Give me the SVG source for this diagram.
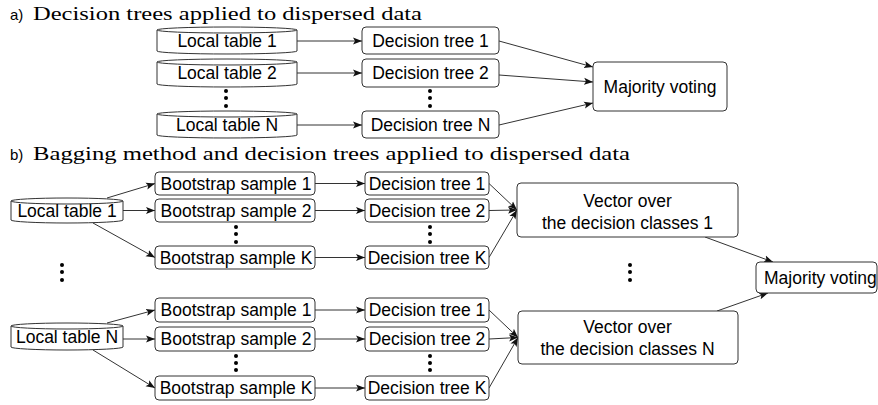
<svg xmlns="http://www.w3.org/2000/svg" width="878" height="405" viewBox="0 0 878 405">
<style>
.box{fill:#fff;stroke:#333;stroke-width:1}
.t{font-family:"Liberation Sans",Arial,sans-serif;font-size:17.5px;fill:#000;text-anchor:middle}
.lbl{font-family:"Liberation Sans",Arial,sans-serif;font-size:15px;fill:#000}
.ttl{font-family:"Liberation Serif","Times New Roman",serif;font-size:19.5px;fill:#000}
.e{stroke:#333;stroke-width:1;fill:none;marker-end:url(#ah)}
.dot{fill:#000}
</style>
<defs>
<marker id="ah" markerUnits="userSpaceOnUse" markerWidth="10" markerHeight="8" refX="9" refY="4" orient="auto">
<path d="M0,0.5 L9,4 L0,7.5 L2,4 z" fill="#111"/>
</marker>
</defs>
<rect width="878" height="405" fill="#fff"/>

<!-- titles -->
<text class="lbl" x="10" y="20">a)</text>
<text class="ttl" x="33" y="20" textLength="389" lengthAdjust="spacingAndGlyphs">Decision trees applied to dispersed data</text>
<text class="lbl" x="10" y="160">b)</text>
<text class="ttl" x="33" y="160" textLength="597" lengthAdjust="spacingAndGlyphs">Bagging method and decision trees applied to dispersed data</text>

<!-- connectors -->
<g id="connectors">
<line class="e" x1="297" y1="41" x2="362" y2="41"/>
<line class="e" x1="297" y1="73" x2="362" y2="73"/>
<line class="e" x1="297" y1="125" x2="362" y2="125"/>
<line class="e" x1="499" y1="41" x2="593" y2="67"/>
<line class="e" x1="499" y1="75" x2="593" y2="82"/>
<line class="e" x1="499" y1="125" x2="593" y2="103"/>

<line class="e" x1="107" y1="198" x2="155" y2="183.5"/>
<line class="e" x1="123" y1="210.5" x2="155" y2="210.5"/>
<line class="e" x1="93" y1="223" x2="155" y2="257.5"/>
<line class="e" x1="315" y1="183.5" x2="365" y2="183.5"/>
<line class="e" x1="315" y1="210.5" x2="365" y2="210.5"/>
<line class="e" x1="315" y1="257.5" x2="365" y2="257.5"/>
<line class="e" x1="489" y1="183.5" x2="517" y2="210"/>
<line class="e" x1="489" y1="210.5" x2="517" y2="210"/>
<line class="e" x1="489" y1="257.5" x2="517" y2="210"/>
<line class="e" x1="705" y1="237" x2="773" y2="262"/>

<line class="e" x1="107" y1="323" x2="155" y2="310"/>
<line class="e" x1="123" y1="339" x2="155" y2="339"/>
<line class="e" x1="93" y1="350" x2="155" y2="388"/>
<line class="e" x1="315" y1="310" x2="365" y2="310"/>
<line class="e" x1="315" y1="339" x2="365" y2="339"/>
<line class="e" x1="315" y1="388" x2="365" y2="388"/>
<line class="e" x1="489" y1="310" x2="518" y2="337.5"/>
<line class="e" x1="489" y1="339" x2="518" y2="337.5"/>
<line class="e" x1="489" y1="388" x2="518" y2="337.5"/>
<line class="e" x1="717" y1="311" x2="768" y2="293"/>
</g>

<!-- section a -->
<g id="a-local-table-1">
<path class="box" d="M157,30 A70,3 0 0 1 297,30 L297,51 A70,3 0 0 1 157,51 Z"/>
<path class="box" d="M157,30 A70,3 0 0 0 297,30"/>
<text class="t" x="227" y="47">Local table 1</text>
</g>
<g id="a-local-table-2">
<path class="box" d="M157,62 A70,3 0 0 1 297,62 L297,84 A70,3 0 0 1 157,84 Z"/>
<path class="box" d="M157,62 A70,3 0 0 0 297,62"/>
<text class="t" x="227" y="79">Local table 2</text>
</g>
<g id="a-local-table-N">
<path class="box" d="M157,114 A70,3 0 0 1 297,114 L297,135 A70,3 0 0 1 157,135 Z"/>
<path class="box" d="M157,114 A70,3 0 0 0 297,114"/>
<text class="t" x="227" y="131">Local table N</text>
</g>
<g id="a-dots">
<circle class="dot" cx="226" cy="91" r="2"/><circle class="dot" cx="226" cy="98" r="2"/><circle class="dot" cx="226" cy="106" r="2"/>
<circle class="dot" cx="430" cy="91" r="2"/><circle class="dot" cx="430" cy="98" r="2"/><circle class="dot" cx="430" cy="106" r="2"/>
</g>
<g id="a-decision-tree-1"><rect class="box" x="362" y="27" width="137" height="27" rx="4"/><text class="t" x="430.5" y="47">Decision tree 1</text></g>
<g id="a-decision-tree-2"><rect class="box" x="362" y="59" width="137" height="28" rx="4"/><text class="t" x="430.5" y="79">Decision tree 2</text></g>
<g id="a-decision-tree-N"><rect class="box" x="362" y="111" width="137" height="27" rx="4"/><text class="t" x="430.5" y="131">Decision tree N</text></g>
<g id="a-majority-voting"><rect class="box" x="593" y="62" width="134" height="49" rx="4"/><text class="t" x="660" y="93">Majority voting</text></g>

<!-- section b, table 1 -->
<g id="b-local-table-1">
<path class="box" d="M11,201 A56,3 0 0 1 123,201 L123,220 A56,3 0 0 1 11,220 Z"/>
<path class="box" d="M11,201 A56,3 0 0 0 123,201"/>
<text class="t" x="67" y="217">Local table 1</text>
</g>
<g id="b1-bootstrap-1"><rect class="box" x="155" y="172" width="160" height="23" rx="4"/><text class="t" x="236" y="189.5">Bootstrap sample 1</text></g>
<g id="b1-bootstrap-2"><rect class="box" x="155" y="199" width="160" height="23" rx="4"/><text class="t" x="236" y="216.5">Bootstrap sample 2</text></g>
<g id="b1-bootstrap-K"><rect class="box" x="155" y="246" width="160" height="23" rx="4"/><text class="t" x="236" y="263.5">Bootstrap sample K</text></g>
<g id="b1-tree-1"><rect class="box" x="365" y="172" width="124" height="23" rx="4"/><text class="t" x="427" y="189.5">Decision tree 1</text></g>
<g id="b1-tree-2"><rect class="box" x="365" y="199" width="124" height="23" rx="4"/><text class="t" x="427" y="216.5">Decision tree 2</text></g>
<g id="b1-tree-K"><rect class="box" x="365" y="246" width="124" height="23" rx="4"/><text class="t" x="427" y="263.5">Decision tree K</text></g>
<g id="b1-vector"><rect class="box" x="517" y="183" width="221" height="54" rx="4"/><text class="t" x="627.5" y="207">Vector over</text><text class="t" x="627.5" y="229">the decision classes 1</text></g>
<g id="b1-dots">
<circle class="dot" cx="236" cy="227" r="2"/><circle class="dot" cx="236" cy="234" r="2"/><circle class="dot" cx="236" cy="242" r="2"/>
<circle class="dot" cx="430" cy="227" r="2"/><circle class="dot" cx="430" cy="234" r="2"/><circle class="dot" cx="430" cy="242" r="2"/>
</g>

<g id="b-dots">
<circle class="dot" cx="62" cy="265" r="2"/><circle class="dot" cx="62" cy="272" r="2"/><circle class="dot" cx="62" cy="280" r="2"/>
<circle class="dot" cx="630" cy="265" r="2"/><circle class="dot" cx="630" cy="272" r="2"/><circle class="dot" cx="630" cy="280" r="2"/>
</g>

<g id="b-majority-voting"><rect class="box" x="756" y="262" width="121" height="31" rx="4"/><text class="t" x="764" y="284" style="text-anchor:start">Majority voting</text></g>

<!-- section b, table N -->
<g id="b-local-table-N">
<path class="box" d="M11,326 A56,3 0 0 1 123,326 L123,347 A56,3 0 0 1 11,347 Z"/>
<path class="box" d="M11,326 A56,3 0 0 0 123,326"/>
<text class="t" x="67" y="343">Local table N</text>
</g>
<g id="bN-bootstrap-1"><rect class="box" x="155" y="298" width="160" height="24" rx="4"/><text class="t" x="236" y="316">Bootstrap sample 1</text></g>
<g id="bN-bootstrap-2"><rect class="box" x="155" y="327" width="160" height="24" rx="4"/><text class="t" x="236" y="345">Bootstrap sample 2</text></g>
<g id="bN-bootstrap-K"><rect class="box" x="155" y="376" width="160" height="24" rx="4"/><text class="t" x="236" y="394">Bootstrap sample K</text></g>
<g id="bN-tree-1"><rect class="box" x="365" y="298" width="124" height="24" rx="4"/><text class="t" x="427" y="316">Decision tree 1</text></g>
<g id="bN-tree-2"><rect class="box" x="365" y="327" width="124" height="24" rx="4"/><text class="t" x="427" y="345">Decision tree 2</text></g>
<g id="bN-tree-K"><rect class="box" x="365" y="376" width="124" height="24" rx="4"/><text class="t" x="427" y="394">Decision tree K</text></g>
<g id="bN-vector"><rect class="box" x="518" y="311" width="220" height="53" rx="4"/><text class="t" x="627.5" y="333">Vector over</text><text class="t" x="627.5" y="355">the decision classes N</text></g>
<g id="bN-dots">
<circle class="dot" cx="236" cy="356" r="2"/><circle class="dot" cx="236" cy="363" r="2"/><circle class="dot" cx="236" cy="370" r="2"/>
<circle class="dot" cx="430" cy="356" r="2"/><circle class="dot" cx="430" cy="363" r="2"/><circle class="dot" cx="430" cy="370" r="2"/>
</g>
</svg>
